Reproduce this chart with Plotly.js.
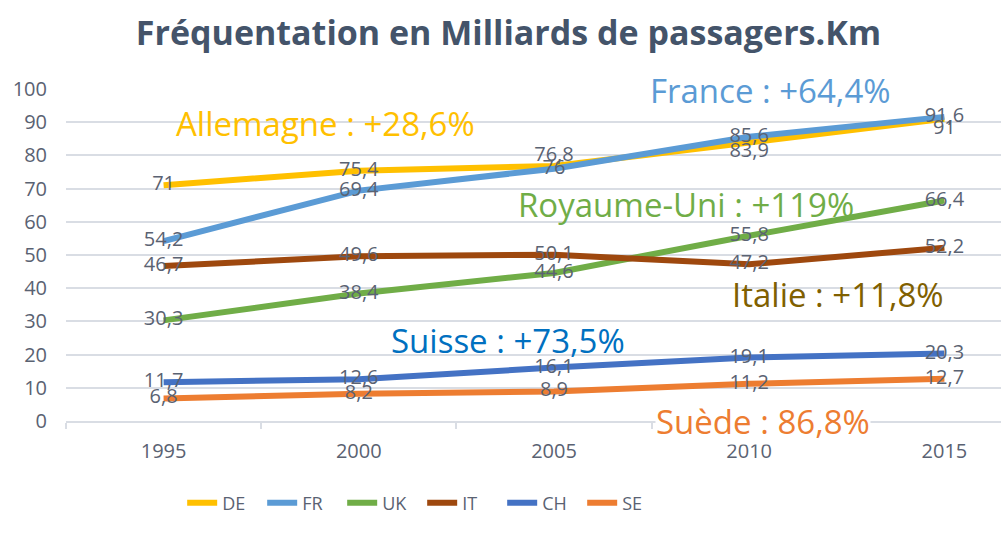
<!DOCTYPE html>
<html><head><meta charset="utf-8">
<script src="https://cdn.plot.ly/plotly-3.0.1.min.js"></script>
<style>html,body{margin:0;padding:0;background:#fff}#chart{width:1001px;height:534px}</style>
</head><body><div id="chart"></div>
<script>
const years = ["1995", "2000", "2005", "2010", "2015"];
const seriesNames = ["DE", "FR", "UK", "IT", "CH", "SE"];
const DE = [71, 75.4, 76.8, 83.9, 91];
const FR = [54.2, 69.4, 76, 85.6, 91.6];
const UK = [30.3, 38.4, 44.6, 55.8, 66.4];
const IT = [46.7, 49.6, 50.1, 47.2, 52.2];
const CH = [11.7, 12.6, 16.1, 19.1, 20.3];
const SE = [6.8, 8.2, 8.9, 11.2, 12.7];
const yTicks = [0, 10, 20, 30, 40, 50, 60, 70, 80, 90, 100];
const notes = ["Allemagne : +28,6%", "France : +64,4%", "Royaume-Uni : +119%", "Italie : +11,8%", "Suisse : +73,5%", "Suède : 86,8%"];

const colors = ["#FFC000", "#5B9BD5", "#70AD47", "#9E480E", "#4472C4", "#ED7D31"];
const data = [DE, FR, UK, IT, CH, SE];
const labelColor = "#5a6272";
const FONT = "Open Sans, sans-serif";
const fmt = v => String(v).replace(".", ",");

const traces = [];
data.forEach((vals, i) => {
  traces.push({
    type: "scatter", mode: "lines", name: seriesNames[i], x: years, y: vals,
    line: {color: colors[i], width: 6},
    hoverinfo: "skip"
  });
});
data.forEach((vals, i) => {
  let pos = vals.map(() => "middle center");
  if (i === 0) pos = ["middle center", "middle center", "top center", "bottom center", "bottom center"];
  traces.push({
    type: "scatter", mode: "text", x: years, y: vals, showlegend: false,
    text: vals.map(fmt), textposition: pos, cliponaxis: false,
    textfont: {family: FONT, size: 20, color: labelColor}, hoverinfo: "skip"
  });
});

const notePos = [[0.278, 0.895], [0.753, 0.994], [0.663, 0.651], [0.826, 0.380], [0.473, 0.241], [0.745, -0.003]];
const noteColors = ["#FFC000", "#5B9BD5", "#70AD47", "#806000", "#0070C0", "#ED7D31"];
const annotations = notes.map((t, i) => ({
  text: t, xref: "paper", yref: "paper", x: notePos[i][0], y: notePos[i][1],
  xanchor: "center", yanchor: "middle", showarrow: false,
  font: {family: FONT, size: 33, color: noteColors[i]},
  bgcolor: i === 5 ? "#ffffff" : "rgba(0,0,0,0)", borderpad: 0
}));

const layout = {
  width: 1001, height: 534,
  margin: {l: 66, r: 0, t: 89, b: 113},
  paper_bgcolor: "#ffffff", plot_bgcolor: "#ffffff",
  title: {text: "Fréquentation en Milliards de passagers.Km", x: 0.508, xanchor: "center", y: 0.938, yanchor: "middle",
    font: {family: FONT, size: 34, color: "#44546A", weight: "bold"}},
  xaxis: {type: "category", range: [-0.5, 4.29], showgrid: false, zeroline: false,
    showline: true, linecolor: "#d9dde4", linewidth: 2,
    ticks: "outside", tickson: "boundaries", ticklen: 6, tickcolor: "#d9dde4", tickwidth: 2,
    tickfont: {family: FONT, size: 20, color: labelColor}, ticklabelstandoff: 11, fixedrange: true},
  yaxis: {range: [0, 100], tickvals: yTicks, showgrid: true, gridcolor: "#d9dde4", gridwidth: 2,
    zeroline: false, showline: false, ticks: "",
    tickfont: {family: FONT, size: 20, color: labelColor}, ticklabelstandoff: 18, fixedrange: true},
  legend: {orientation: "h", x: 0.182, xanchor: "left", xref: "container", y: 0.058, yanchor: "middle", yref: "container",
    font: {family: FONT, size: 18, color: labelColor}, entrywidth: 35, itemwidth: 30, tracegroupgap: 0},
  annotations: annotations,
  showlegend: true
};
Plotly.newPlot("chart", traces, layout, {displayModeBar: false, staticPlot: true});
</script></body></html>
